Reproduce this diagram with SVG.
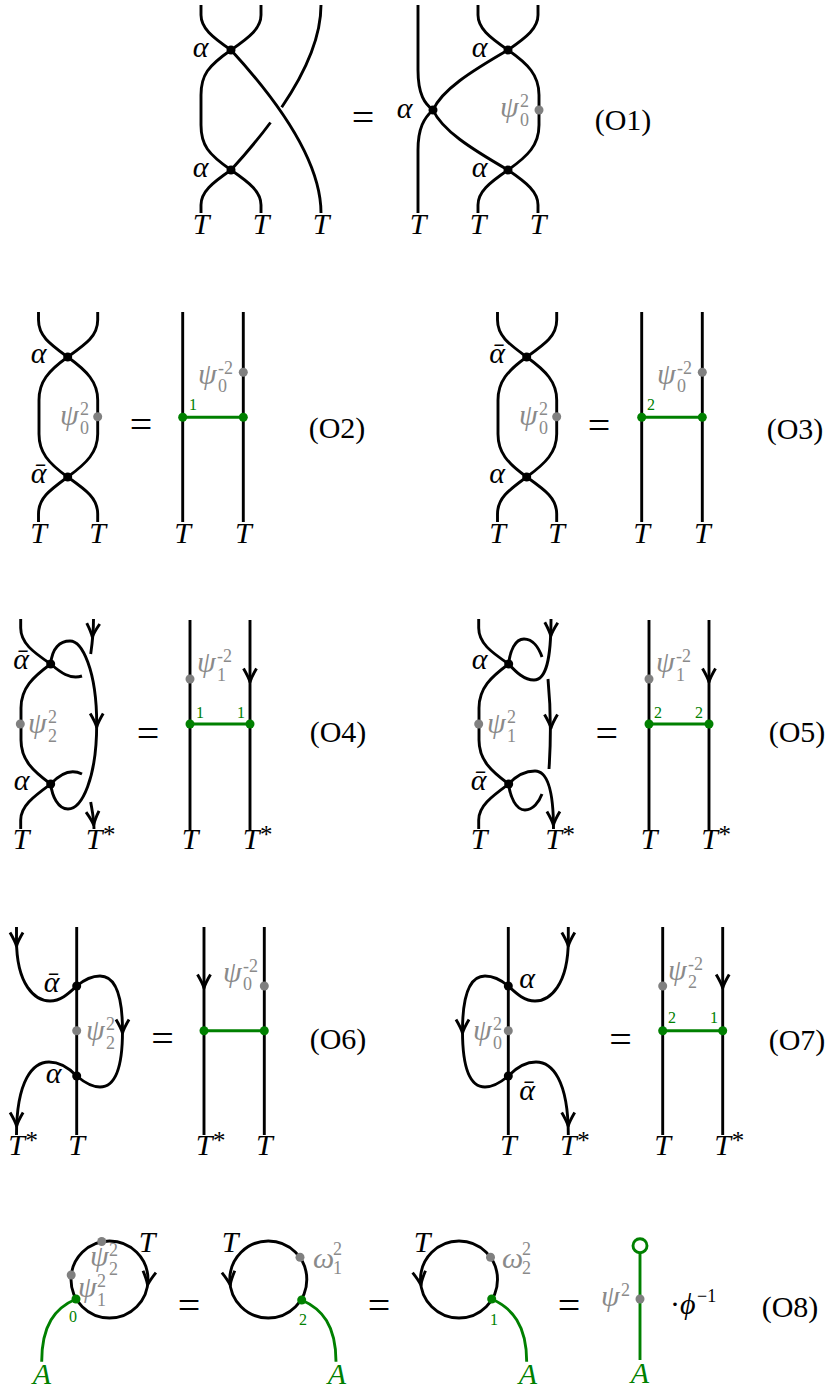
<svg xmlns="http://www.w3.org/2000/svg" width="832" height="1391" viewBox="0 0 832 1391">
<style>
.s{fill:none;stroke:#000;stroke-width:2.9}
.gl{fill:none;stroke:#008000;stroke-width:2.9}
.v{fill:#000}
.gd{fill:#808080}
.gn{fill:#008000}
.m{font-family:"Liberation Serif","DejaVu Serif",serif;font-style:italic;font-size:30px}
.mc{font-family:"Liberation Serif","DejaVu Serif",serif;font-style:italic;font-size:30px;text-anchor:middle}
.gt{fill:#8a8a8a}
.sp{font-family:"Liberation Serif","DejaVu Serif",serif;font-size:18px}
.st{font-family:"Liberation Serif","DejaVu Serif",serif;font-size:25px}
.n{font-family:"Liberation Serif","DejaVu Serif",serif;font-size:16px;fill:#008000}
.nc{font-family:"Liberation Serif","DejaVu Serif",serif;font-size:16px;fill:#008000;text-anchor:middle}
.eq{font-family:"Liberation Serif","DejaVu Serif",serif;font-size:40px;text-anchor:middle}
.tag{font-family:"Liberation Serif","DejaVu Serif",serif;font-size:30px;text-anchor:middle}
.ga{fill:#008000}
</style>
<defs>
<path id="ar" d="M-6.5,-13.5 Q-1.5,-5 0,0 Q1.5,-5 6.5,-13.5" fill="none" stroke="#000" stroke-width="2.9" stroke-linejoin="round"/>
</defs>

<!-- O1 -->
<g id="O1">
 <g id="O1-connectors">
  <path class="s" d="M201,5 L201,15 C201,28 212,37 231,50"/>
  <path class="s" d="M261,5 L261,15 C261,28 250,37 231,50"/>
  <path class="s" d="M231,50 C208,66 201,75 201,95 L201,125 C201,145 208,154 231,170"/>
  <path class="s" d="M231,170 C244.2,155.6 257.6,139.9 270.5,122.5"/>
  <path class="s" d="M281.7,107.2 C304.4,73.8 321,38.8 321,5"/>
  <path class="s" d="M231,50 C275,98 321,160 321,213"/>
  <path class="s" d="M231,170 C212,183 201,192 201,205 L201,213"/>
  <path class="s" d="M231,170 C250,183 261,192 261,205 L261,213"/>
  <path class="s" d="M418,5 L418,70 C418,95 425,104 433,110"/>
  <path class="s" d="M433,110 C424,118 418,128 418,150 L418,213"/>
  <path class="s" d="M478,5 L478,15 C478,28 489,37 508,50"/>
  <path class="s" d="M538,5 L538,15 C538,28 527,37 508,50"/>
  <path class="s" d="M433,110 C442,90 470,72 508,50"/>
  <path class="s" d="M433,110 C442,130 470,148 508,170"/>
  <path class="s" d="M508,50 C528,64 539,75 539,95 L539,125 C539,145 528,156 508,170"/>
  <path class="s" d="M508,170 C489,183 478,192 478,205 L478,213"/>
  <path class="s" d="M508,170 C527,183 538,192 538,205 L538,213"/>
 </g>
 <g id="O1-nodes">
  <circle class="v" cx="231" cy="50" r="4.5"/>
  <circle class="v" cx="231" cy="170" r="4.5"/>
  <circle class="v" cx="433" cy="110" r="4.5"/>
  <circle class="v" cx="508" cy="50" r="4.5"/>
  <circle class="v" cx="508" cy="170" r="4.5"/>
  <circle class="gd" cx="539" cy="110" r="4.5"/>
 </g>
 <text class="mc" x="200.5" y="57">α</text>
 <text class="mc" x="200.5" y="177">α</text>
 <text class="mc" x="404.5" y="118">α</text>
 <text class="mc" x="479.5" y="57">α</text>
 <text class="mc" x="479.5" y="177">α</text>
 <text class="mc" x="201" y="234">T</text>
 <text class="mc" x="261" y="234">T</text>
 <text class="mc" x="321" y="234">T</text>
 <text class="mc" x="418" y="234">T</text>
 <text class="mc" x="478" y="234">T</text>
 <text class="mc" x="538" y="234">T</text>
 <text class="m gt" x="500" y="117">ψ</text><text class="sp gt" x="520" y="107">2</text><text class="sp gt" x="520" y="126">0</text>
 <text class="eq" x="363" y="131">=</text>
 <text class="tag" x="623" y="130">(O1)</text>
</g>

<!-- O2 -->
<g id="O2">
 <g id="O2-connectors">
  <path class="s" d="M38.5,312 L38.5,320 C38.5,336 50,344 67.7,357"/>
  <path class="s" d="M97.7,312 L97.7,320 C97.7,336 86,344 67.7,357"/>
  <path class="s" d="M67.7,357 C48,371 39,382 39,400 L39,434 C39,452 48,463 67.7,477"/>
  <path class="s" d="M67.7,357 C87,371 97.7,382 97.7,400 L97.7,434 C97.7,452 87,463 67.7,477"/>
  <path class="s" d="M67.7,477 C50,490 38.5,498 38.5,514 L38.5,522"/>
  <path class="s" d="M67.7,477 C86,490 97.7,498 97.7,514 L97.7,522"/>
  <path class="s" d="M182.7,312 V522 M243.3,312 V522"/>
  <path class="gl" d="M182.7,417.3 H243.3"/>
 </g>
 <g id="O2-nodes">
  <circle class="v" cx="67.7" cy="357" r="4.5"/>
  <circle class="v" cx="67.7" cy="477" r="4.5"/>
  <circle class="gd" cx="97.7" cy="416.7" r="4.5"/>
  <circle class="gd" cx="243.3" cy="372.3" r="4.5"/>
  <circle class="gn" cx="182.7" cy="417.3" r="4.5"/>
  <circle class="gn" cx="243.3" cy="417.3" r="4.5"/>
 </g>
 <text class="mc" x="38.5" y="363">α</text>
 <text class="mc" x="38.5" y="483">ᾱ</text>
 <text class="mc" x="38.5" y="543">T</text>
 <text class="mc" x="97.7" y="543">T</text>
 <text class="mc" x="182.7" y="543">T</text>
 <text class="mc" x="243.3" y="543">T</text>
 <text class="m gt" x="60" y="425">ψ</text><text class="sp gt" x="80" y="415">2</text><text class="sp gt" x="80" y="434">0</text>
 <text class="m gt" x="198" y="384">ψ</text><text class="sp gt" x="218" y="374">-2</text><text class="sp gt" x="218" y="392">0</text>
 <text class="n" x="189" y="410">1</text>
 <text class="eq" x="141" y="438">=</text>
 <text class="tag" x="337" y="438">(O2)</text>
</g>

<!-- O3 -->
<g id="O3">
 <g id="O3-connectors" transform="translate(459,0)">
  <path class="s" d="M38.5,312 L38.5,320 C38.5,336 50,344 67.7,357"/>
  <path class="s" d="M97.7,312 L97.7,320 C97.7,336 86,344 67.7,357"/>
  <path class="s" d="M67.7,357 C48,371 39,382 39,400 L39,434 C39,452 48,463 67.7,477"/>
  <path class="s" d="M67.7,357 C87,371 97.7,382 97.7,400 L97.7,434 C97.7,452 87,463 67.7,477"/>
  <path class="s" d="M67.7,477 C50,490 38.5,498 38.5,514 L38.5,522"/>
  <path class="s" d="M67.7,477 C86,490 97.7,498 97.7,514 L97.7,522"/>
  <path class="s" d="M182.7,312 V522 M243.3,312 V522"/>
  <path class="gl" d="M182.7,417.3 H243.3"/>
 </g>
 <g id="O3-nodes" transform="translate(459,0)">
  <circle class="v" cx="67.7" cy="357" r="4.5"/>
  <circle class="v" cx="67.7" cy="477" r="4.5"/>
  <circle class="gd" cx="97.7" cy="416.7" r="4.5"/>
  <circle class="gd" cx="243.3" cy="372.3" r="4.5"/>
  <circle class="gn" cx="182.7" cy="417.3" r="4.5"/>
  <circle class="gn" cx="243.3" cy="417.3" r="4.5"/>
 </g>
 <text class="mc" x="497" y="363">ᾱ</text>
 <text class="mc" x="497" y="483">α</text>
 <text class="mc" x="497.5" y="543">T</text>
 <text class="mc" x="556.7" y="543">T</text>
 <text class="mc" x="641.7" y="543">T</text>
 <text class="mc" x="702.3" y="543">T</text>
 <text class="m gt" x="519" y="425">ψ</text><text class="sp gt" x="539" y="415">2</text><text class="sp gt" x="539" y="434">0</text>
 <text class="m gt" x="657" y="384">ψ</text><text class="sp gt" x="677" y="374">-2</text><text class="sp gt" x="677" y="392">0</text>
 <text class="n" x="647" y="410">2</text>
 <text class="eq" x="599" y="439">=</text>
 <text class="tag" x="795" y="439">(O3)</text>
</g>

<!-- O4 -->
<g id="O4">
 <g id="O4-connectors">
  <path class="s" d="M20.7,619 L20.7,628 C20.7,643 33,652 50.7,664"/>
  <path class="s" d="M50.7,664 C60,672 70,680 82,676"/>
  <path class="s" d="M50.7,664 C52,648 60,641 70,641 C82,641 96.7,670 96.7,724 C96.7,778 82,809 68,809 C58,809 52,796 50.7,784"/>
  <path class="s" d="M50.7,664 C33,677 21,688 21,708 L21,740 C21,760 33,771 50.7,784"/>
  <path class="s" d="M50.7,784 C33,797 20.7,806 20.7,820 L20.7,829"/>
  <path class="s" d="M50.7,784 C59,775 70,768 82,774"/>
  <path class="s" d="M93.5,619 C93.5,635 92,645 90.7,654"/>
  <path class="s" d="M90.7,802 C92,810 94,818 94,829"/>
  <use href="#ar" transform="translate(92.3,637) rotate(4)"/>
  <use href="#ar" transform="translate(96.7,727)"/>
  <use href="#ar" transform="translate(93.7,825) rotate(-5)"/>
  <path class="s" d="M190,620 V830 M250,620 V830"/>
  <use href="#ar" transform="translate(250,682)"/>
  <path class="gl" d="M190,724 H250"/>
 </g>
 <g id="O4-nodes">
  <circle class="v" cx="50.7" cy="664" r="4.5"/>
  <circle class="v" cx="50.7" cy="784" r="4.5"/>
  <circle class="gd" cx="20.3" cy="724" r="4.5"/>
  <circle class="gd" cx="190" cy="679" r="4.5"/>
  <circle class="gn" cx="190" cy="724" r="4.5"/>
  <circle class="gn" cx="250" cy="724" r="4.5"/>
 </g>
 <text class="mc" x="21" y="669">ᾱ</text>
 <text class="mc" x="21.5" y="790">α</text>
 <text class="m gt" x="28" y="733">ψ</text><text class="sp gt" x="48" y="723">2</text><text class="sp gt" x="48" y="742">2</text>
 <text class="mc" x="21" y="849">T</text>
 <text class="mc" x="94" y="849">T</text><text class="st" x="103" y="843">*</text>
 <text class="mc" x="190" y="849">T</text>
 <text class="mc" x="251" y="849">T</text><text class="st" x="260" y="843">*</text>
 <text class="m gt" x="197" y="672">ψ</text><text class="sp gt" x="217" y="662">-2</text><text class="sp gt" x="217" y="681">1</text>
 <text class="n" x="196" y="718">1</text>
 <text class="n" x="237" y="718">1</text>
 <text class="eq" x="148" y="747">=</text>
 <text class="tag" x="338" y="742">(O4)</text>
</g>

<!-- O5 -->
<g id="O5">
 <g id="O5-connectors">
  <path class="s" d="M478.7,619 L478.7,628 C478.7,643 491,652 508.7,664"/>
  <path class="s" d="M508.7,664 C510,651 515,639 524,639 C533,639 539,648 542,657"/>
  <path class="s" d="M508.7,664 C516,672 524,680 534,680 C546,680 551,660 551,619"/>
  <path class="s" d="M548,679 C551,710 551,740 549,769"/>
  <path class="s" d="M508.7,784 C516,776 525,771 535,771 C547,771 553.5,788 553.5,829"/>
  <path class="s" d="M508.7,784 C510,797 516,810 525,810 C533,810 539,802 542,794"/>
  <path class="s" d="M508.7,664 C491,677 479,688 479,708 L479,740 C479,760 491,771 508.7,784"/>
  <path class="s" d="M508.7,784 C491,797 478.7,806 478.7,820 L478.7,829"/>
  <use href="#ar" transform="translate(550.8,636) rotate(2)"/>
  <use href="#ar" transform="translate(551,728)"/>
  <use href="#ar" transform="translate(553.4,825)"/>
  <path class="s" d="M649,620 V830 M709,620 V830"/>
  <use href="#ar" transform="translate(709,682)"/>
  <path class="gl" d="M649,724 H709"/>
 </g>
 <g id="O5-nodes">
  <circle class="v" cx="508.7" cy="664" r="4.5"/>
  <circle class="v" cx="508.7" cy="784" r="4.5"/>
  <circle class="gd" cx="478.7" cy="724" r="4.5"/>
  <circle class="gd" cx="649" cy="679" r="4.5"/>
  <circle class="gn" cx="649" cy="724" r="4.5"/>
  <circle class="gn" cx="709" cy="724" r="4.5"/>
 </g>
 <text class="mc" x="479.5" y="669">α</text>
 <text class="mc" x="478.5" y="790">ᾱ</text>
 <text class="m gt" x="487" y="733">ψ</text><text class="sp gt" x="507" y="723">2</text><text class="sp gt" x="507" y="742">1</text>
 <text class="mc" x="479" y="849">T</text>
 <text class="mc" x="553.5" y="849">T</text><text class="st" x="562.5" y="843">*</text>
 <text class="mc" x="649" y="849">T</text>
 <text class="mc" x="709.5" y="849">T</text><text class="st" x="718.5" y="843">*</text>
 <text class="m gt" x="656" y="672">ψ</text><text class="sp gt" x="676" y="662">-2</text><text class="sp gt" x="676" y="681">1</text>
 <text class="n" x="654" y="718">2</text>
 <text class="n" x="695" y="718">2</text>
 <text class="eq" x="606.7" y="747">=</text>
 <text class="tag" x="797" y="742">(O5)</text>
</g>

<!-- O6 -->
<g id="O6">
 <g id="O6-connectors">
  <path class="s" d="M76.7,927 V1135"/>
  <path class="s" d="M16.5,927 L16.5,940 C16.5,985 35,1001 50,1001 C61,1001 69,993 76.7,986"/>
  <path class="s" d="M76.7,986 C85,979 93,976 100,976 C115,976 122.5,995 122.5,1031 C122.5,1067 115,1087 100,1087 C93,1087 85,1083 76.7,1076"/>
  <path class="s" d="M76.7,1076 C69,1068 60,1062 49,1062 C33,1062 16.5,1080 16.5,1135"/>
  <use href="#ar" transform="translate(16.5,946)"/>
  <use href="#ar" transform="translate(122.5,1033)"/>
  <use href="#ar" transform="translate(16.6,1126)"/>
  <path class="s" d="M204,927 V1135 M264.3,927 V1135"/>
  <use href="#ar" transform="translate(204,988)"/>
  <path class="gl" d="M204,1030.7 H264.3"/>
 </g>
 <g id="O6-nodes">
  <circle class="v" cx="76.7" cy="986" r="4.5"/>
  <circle class="v" cx="76.7" cy="1076" r="4.5"/>
  <circle class="gd" cx="76.7" cy="1030.7" r="4.5"/>
  <circle class="gd" cx="264.3" cy="986" r="4.5"/>
  <circle class="gn" cx="204" cy="1030.7" r="4.5"/>
  <circle class="gn" cx="264.3" cy="1030.7" r="4.5"/>
 </g>
 <text class="mc" x="51.5" y="992">ᾱ</text>
 <text class="mc" x="53.5" y="1083">α</text>
 <text class="m gt" x="86" y="1040">ψ</text><text class="sp gt" x="106" y="1030">2</text><text class="sp gt" x="106" y="1049">2</text>
 <text class="mc" x="16.5" y="1155">T</text><text class="st" x="25.5" y="1149">*</text>
 <text class="mc" x="76.7" y="1155">T</text>
 <text class="mc" x="204" y="1155">T</text><text class="st" x="213" y="1149">*</text>
 <text class="mc" x="264.3" y="1155">T</text>
 <text class="m gt" x="223" y="982">ψ</text><text class="sp gt" x="243" y="972">-2</text><text class="sp gt" x="243" y="990">0</text>
 <text class="eq" x="162.5" y="1052">=</text>
 <text class="tag" x="338" y="1049">(O6)</text>
</g>

<!-- O7 -->
<g id="O7">
 <g id="O7-connectors">
  <path class="s" d="M508.3,927 V1135"/>
  <path class="s" d="M568.3,927 L568.3,940 C568.3,985 550,1001 535,1001 C524,1001 516,993 508.3,986"/>
  <path class="s" d="M508.3,986 C500,979 492,976 485,976 C470,976 462.5,995 462.5,1031 C462.5,1067 470,1087 485,1087 C492,1087 500,1083 508.3,1076"/>
  <path class="s" d="M508.3,1076 C516,1068 525,1062 536,1062 C552,1062 568.3,1080 568.3,1135"/>
  <use href="#ar" transform="translate(568.3,946)"/>
  <use href="#ar" transform="translate(462.5,1033)"/>
  <use href="#ar" transform="translate(568.2,1126)"/>
  <path class="s" d="M662.7,927 V1135 M722.7,927 V1135"/>
  <use href="#ar" transform="translate(722.7,988)"/>
  <path class="gl" d="M662.7,1030.7 H722.7"/>
 </g>
 <g id="O7-nodes">
  <circle class="v" cx="508.3" cy="986" r="4.5"/>
  <circle class="v" cx="508.3" cy="1076" r="4.5"/>
  <circle class="gd" cx="508.3" cy="1030.7" r="4.5"/>
  <circle class="gd" cx="662.7" cy="986" r="4.5"/>
  <circle class="gn" cx="662.7" cy="1030.7" r="4.5"/>
  <circle class="gn" cx="722.7" cy="1030.7" r="4.5"/>
 </g>
 <text class="mc" x="527" y="988">α</text>
 <text class="mc" x="527" y="1100">ᾱ</text>
 <text class="m gt" x="473" y="1040">ψ</text><text class="sp gt" x="493" y="1030">2</text><text class="sp gt" x="493" y="1049">0</text>
 <text class="mc" x="508.3" y="1155">T</text>
 <text class="mc" x="568.3" y="1155">T</text><text class="st" x="577.3" y="1149">*</text>
 <text class="mc" x="662.7" y="1155">T</text>
 <text class="mc" x="722.7" y="1155">T</text><text class="st" x="731.7" y="1149">*</text>
 <text class="m gt" x="668" y="980">ψ</text><text class="sp gt" x="688" y="970">-2</text><text class="sp gt" x="688" y="988">2</text>
 <text class="n" x="668" y="1023">2</text>
 <text class="n" x="710" y="1023">1</text>
 <text class="eq" x="620.5" y="1053">=</text>
 <text class="tag" x="797" y="1050">(O7)</text>
</g>

<!-- O8 -->
<g id="O8">
 <g id="O8-connectors">
  <circle class="s" cx="109.5" cy="1279.5" r="38.5"/>
  <use href="#ar" transform="translate(147.6,1285) rotate(8)"/>
  <path class="gl" d="M76,1299 C55,1308 41.7,1325 41.7,1361.7"/>
  <circle class="s" cx="268.3" cy="1279.5" r="38.5"/>
  <use href="#ar" transform="translate(230.2,1285) rotate(-8)"/>
  <path class="gl" d="M301.7,1300 C322,1309 336,1325 336,1361.7"/>
  <circle class="s" cx="459" cy="1279.5" r="38.5"/>
  <use href="#ar" transform="translate(420.9,1285) rotate(-8)"/>
  <path class="gl" d="M491.7,1299 C512,1308 526.7,1325 526.7,1361.7"/>
  <path class="gl" d="M640,1253 V1360"/>
 </g>
 <g id="O8-nodes">
  <circle class="gd" cx="101.7" cy="1241.5" r="4.5"/>
  <circle class="gd" cx="71.2" cy="1275" r="4.5"/>
  <circle class="gn" cx="76" cy="1299" r="4.5"/>
  <circle class="gd" cx="300" cy="1257.3" r="4.5"/>
  <circle class="gn" cx="301.7" cy="1300" r="4.5"/>
  <circle class="gd" cx="490.5" cy="1257.3" r="4.5"/>
  <circle class="gn" cx="491.7" cy="1299" r="4.5"/>
  <circle cx="640" cy="1245.7" r="7" fill="#fff" stroke="#008000" stroke-width="2.9"/>
  <circle class="gd" cx="640" cy="1299" r="4.5"/>
 </g>
 <text class="mc" x="147" y="1252">T</text>
 <text class="mc" x="230" y="1252">T</text>
 <text class="mc" x="422" y="1252">T</text>
 <text class="m gt" x="90" y="1266">ψ</text><text class="sp gt" x="109" y="1256">2</text><text class="sp gt" x="109" y="1275">2</text>
 <text class="m gt" x="78" y="1297">ψ</text><text class="sp gt" x="97" y="1287">2</text><text class="sp gt" x="97" y="1306">1</text>
 <text class="m gt" x="313" y="1268">ω</text><text class="sp gt" x="333" y="1255">2</text><text class="sp gt" x="333" y="1274">1</text>
 <text class="m gt" x="502" y="1268">ω</text><text class="sp gt" x="522" y="1255">2</text><text class="sp gt" x="522" y="1274">2</text>
 <text class="m gt" x="601" y="1306">ψ</text><text class="sp gt" x="621" y="1296">2</text>
 <text class="nc" x="73" y="1322">0</text>
 <text class="nc" x="303" y="1325">2</text>
 <text class="nc" x="494" y="1325">1</text>
 <text class="mc ga" x="42" y="1384">A</text>
 <text class="mc ga" x="337" y="1384">A</text>
 <text class="mc ga" x="528" y="1384">A</text>
 <text class="mc ga" x="640" y="1383">A</text>
 <text class="m" x="670" y="1314"><tspan font-style="normal">·</tspan>ϕ</text><text class="sp" x="697" y="1302">−1</text>
 <text class="eq" x="189" y="1319">=</text>
 <text class="eq" x="379" y="1319">=</text>
 <text class="eq" x="569" y="1319">=</text>
 <text class="tag" x="790" y="1317">(O8)</text>
</g>
</svg>
